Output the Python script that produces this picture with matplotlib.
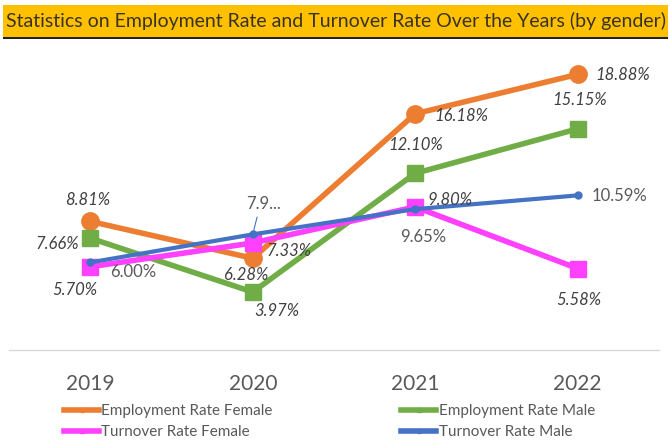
import matplotlib
matplotlib.use("Agg")
import matplotlib.pyplot as plt
from matplotlib.patches import Rectangle
from matplotlib.lines import Line2D

plt.rcParams['font.family'] = ['Lato', 'DejaVu Sans']

years = ["2019", "2020", "2021", "2022"]
emp_female = [8.81, 6.28, 16.18, 18.88]
emp_male = [7.66, 3.97, 12.10, 15.15]
turn_female = [5.70, 7.33, 9.80, 5.58]
turn_male = [6.00, 7.92, 9.65, 10.59]
title = "Statistics on Employment Rate and Turnover Rate Over the Years (by gender)"

W, H = 670, 441
fig = plt.figure(figsize=(W / 100, H / 100), dpi=100)
fig.patch.set_facecolor("white")

# title band
fig.patches.append(Rectangle((3 / W, 1 - 37 / H), 665 / W, 32 / H, transform=fig.transFigure,
                             facecolor="#FFC000", edgecolor="none", zorder=0))
fig.patches.append(Rectangle((3 / W, 1 - 39 / H), 665 / W, 2 / H, transform=fig.transFigure,
                             facecolor="#222222", edgecolor="none", zorder=0))
fig.text(6 / W, 1 - 21 / H, title, ha="left", va="center", fontsize=14, color="#3a3226")

ax = fig.add_axes([9 / W, 91 / H, 650 / W, 292 / H])
ax.set_xlim(-0.5, 3.5)
ax.set_ylim(0, 20)
x = list(range(len(years)))

C_EF, C_EM, C_TF, C_TM = "#ED7D31", "#70AD47", "#FF40FF", "#4472C4"

ax.plot(x, emp_female, color=C_EF, lw=4, marker="o", ms=12.5, zorder=3)
ax.plot(x, emp_male, color=C_EM, lw=4, marker="s", ms=11, zorder=4)
ax.plot(x, turn_female, color=C_TF, lw=4, marker="s", ms=11, zorder=5)
ax.plot(x, turn_male, color=C_TM, lw=3.0, marker="o", ms=5, zorder=6)

dark = "#404040"
gray = "#595959"
def lab(xi, v, txt, dx, dy, color=dark, italic=True):
    ax.annotate(txt, (xi, v), xytext=(dx, dy), textcoords="offset pixels",
                ha="center", va="center", fontsize=12, color=color,
                fontstyle="italic" if italic else "normal", zorder=10)

ef_off = [(-3, 21), (-7, -17), (46, -2), (45, -1)]
em_off = [(-33, -6), (24, -19), (0, 28), (2, 29)]
tf_off = [(-15, -23), (36, -8), (35, 7), (1, -31)]
tm_off = [(43, -10), (11, 30), (8, -28), (42, -1)]
for i in x:
    lab(i, emp_female[i], f"{emp_female[i]:.2f}%", *ef_off[i])
    lab(i, emp_male[i], f"{emp_male[i]:.2f}%", *em_off[i])
    lab(i, turn_female[i], f"{turn_female[i]:.2f}%", *tf_off[i])
    txt = f"{turn_male[i]:.2f}%" if i != 1 else "7.9..."
    lab(i, turn_male[i], txt, *tm_off[i], color=gray, italic=False)

# leader line for truncated label
ax.annotate("", (1, turn_male[1]), xytext=(5, 20), textcoords="offset pixels",
            arrowprops=dict(arrowstyle="-", color=C_TM, lw=0.8), zorder=7)

for s in ["top", "left", "right"]:
    ax.spines[s].set_visible(False)
ax.spines["bottom"].set_color("#d9d9d9")
ax.spines["bottom"].set_linewidth(1)
ax.set_yticks([])
ax.set_xticks(x)
ax.set_xticklabels(years, fontsize=15, color=gray)
ax.tick_params(axis="x", length=0, pad=17)
ax.set_facecolor("none")

handles = [
    Line2D([], [], color=C_EF, lw=4, marker="o", ms=3),
    Line2D([], [], color=C_TF, lw=4, marker="s", ms=3),
    Line2D([], [], color=C_EM, lw=4, marker="s", ms=3),
    Line2D([], [], color=C_TM, lw=4, marker="o", ms=3),
]
labels = ["Employment Rate Female", "Turnover Rate Female",
          "Employment Rate Male", "Turnover Rate Male"]
leg = fig.legend(handles, labels, ncol=2, loc="upper left",
                 bbox_to_anchor=(64 / W, 1 - 404 / H), frameon=False,
                 fontsize=11, handlelength=2.3, handletextpad=0.15,
                 columnspacing=8.4, labelspacing=0.45, borderaxespad=0, borderpad=0)
for t in leg.get_texts():
    t.set_color(gray)

fig.savefig("out.png", dpi=100, facecolor="white")
